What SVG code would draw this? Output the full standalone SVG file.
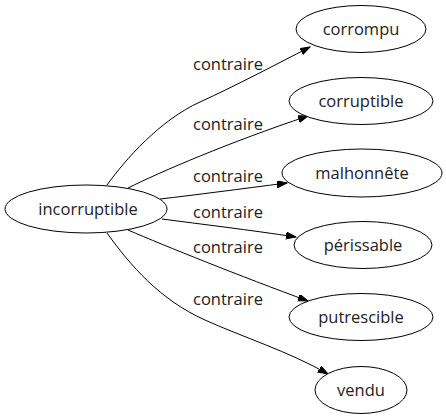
<svg xmlns="http://www.w3.org/2000/svg" width="446" height="419" viewBox="0 0 446 419">
<style>
  .node ellipse { fill: #ffffff; stroke: #000000; stroke-width: 1; }
  .node text { font-family: "Open Sans", "DejaVu Sans", sans-serif; font-size: 16.5px; fill: #222222; text-anchor: middle; }
  .edge path { fill: none; stroke: #000000; stroke-width: 1; }
  .edge text { font-family: "Open Sans", "DejaVu Sans", sans-serif; font-size: 16.5px; fill: #222222; text-anchor: middle; }
</style>
<defs>
  <marker id="arrow" markerUnits="userSpaceOnUse" markerWidth="11" markerHeight="8" refX="10" refY="3.5" orient="auto" viewBox="0 0 11 8">
    <path d="M0,0 L10,3.5 L0,7 z" fill="#000000" stroke="#000000" stroke-width="1"/>
  </marker>
</defs>
<rect x="0" y="0" width="446" height="419" fill="#ffffff"/>
<g id="connectors">
  <g class="edge" id="e-corrompu">
    <path d="M107,185 C125,160 160,120 200,102 C235,86 275,65 310,47" marker-end="url(#arrow)"/>
    <text x="228" y="70">contraire</text>
  </g>
  <g class="edge" id="e-corruptible">
    <path d="M128,188 C160,172 230,142 308,116" marker-end="url(#arrow)"/>
    <text x="228" y="130">contraire</text>
  </g>
  <g class="edge" id="e-malhonnete">
    <path d="M160,199 C195,195 240,189 287,183" marker-end="url(#arrow)"/>
    <text x="228" y="182">contraire</text>
  </g>
  <g class="edge" id="e-perissable">
    <path d="M162,219 C200,224 250,230 296,237" marker-end="url(#arrow)"/>
    <text x="228" y="218">contraire</text>
  </g>
  <g class="edge" id="e-putrescible">
    <path d="M128,230 C165,246 240,276 308,301" marker-end="url(#arrow)"/>
    <text x="228" y="253">contraire</text>
  </g>
  <g class="edge" id="e-vendu">
    <path d="M107,233 C130,265 160,300 205,320 C240,336 290,352 328,374" marker-end="url(#arrow)"/>
    <text x="228" y="305">contraire</text>
  </g>
</g>
<g class="node" id="incorruptible">
  <ellipse cx="86" cy="209" rx="81" ry="24"/>
  <text x="88" y="215">incorruptible</text>
</g>
<g class="node" id="corrompu">
  <ellipse cx="361" cy="29" rx="65" ry="23.5"/>
  <text x="361" y="35">corrompu</text>
</g>
<g class="node" id="corruptible">
  <ellipse cx="361" cy="101" rx="72" ry="23.5"/>
  <text x="361" y="107">corruptible</text>
</g>
<g class="node" id="malhonnete">
  <ellipse cx="362" cy="173" rx="80" ry="24"/>
  <text x="362" y="179">malhonnête</text>
</g>
<g class="node" id="perissable">
  <ellipse cx="363" cy="245" rx="69" ry="23.5"/>
  <text x="363" y="251">périssable</text>
</g>
<g class="node" id="putrescible">
  <ellipse cx="361" cy="317" rx="72" ry="23.5"/>
  <text x="361" y="323">putrescible</text>
</g>
<g class="node" id="vendu">
  <ellipse cx="361" cy="390" rx="46" ry="23.5"/>
  <text x="361" y="396">vendu</text>
</g>
</svg>
